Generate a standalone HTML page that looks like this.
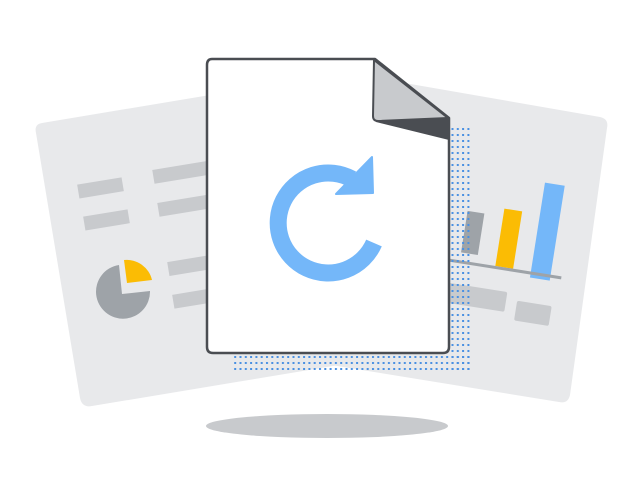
<!DOCTYPE html>
<html><head><meta charset="utf-8"><style>html,body{margin:0;padding:0;background:#fff}svg{display:block}</style></head>
<body>
<svg width="641" height="481" viewBox="0 0 641 481" xmlns="http://www.w3.org/2000/svg">
<defs>
<pattern id="dots" width="5.3" height="6" patternUnits="userSpaceOnUse">
<rect x="1" y="2" width="2" height="2" fill="#4a90e2"/>
</pattern>
</defs>
<ellipse cx="327" cy="426" rx="121" ry="12" fill="#c8cacd"/>
<!-- left page -->
<path d="M42,123 L300,80 L345,364 L92,406 Q82,408 80,398 L36,133 Q34,124 42,123 Z" fill="#e8e9eb"/>
<g fill="#c8cacd">
<rect x="78" y="181" width="45" height="14" transform="rotate(-9.4 100 188)"/>
<rect x="84" y="213" width="45" height="14" transform="rotate(-9.4 106 220)"/>
<rect x="153" y="165" width="60" height="14" transform="rotate(-9.4 183 172)"/>
<rect x="158" y="198" width="60" height="14" transform="rotate(-9.4 188 205)"/>
<rect x="168" y="258" width="50" height="14" transform="rotate(-9.4 193 265)"/>
<rect x="173" y="291" width="45" height="14" transform="rotate(-9.4 196 298)"/>
</g>
<path d="M119,265 L122,294 L150,291 A27,27 0 1 1 119,265 Z" fill="#9ea3a8"/>
<path d="M124,260 L127,283 L152,280 A26,26 0 0 0 124,260 Z" fill="#fbbc04"/>
<!-- right page -->
<path d="M330,70 L600,117 Q609,119 607,128 L570,395 Q568,404 559,402 L300,360 Z" fill="#e8e9eb"/>
<g transform="rotate(9 510 250)">
<rect x="462" y="218" width="17" height="42" fill="#9ea3a8"/>
<rect x="498" y="210" width="18" height="58" fill="#fbbc04"/>
<rect x="534" y="178" width="20" height="96" fill="#74b7f9"/>
<rect x="445" y="268" width="120" height="3" fill="#9ea3a8"/>
<rect x="450" y="292" width="64" height="20" rx="2" fill="#c8cacd"/>
<rect x="525" y="299" width="35" height="20" rx="2" fill="#c8cacd"/>
</g>
<!-- dots -->
<rect x="450" y="125" width="22" height="245" fill="url(#dots)"/>
<rect x="233" y="352" width="239" height="18" fill="url(#dots)"/>
<!-- document -->
<path d="M212,59 L375,59 L449,118 L449,347 Q449,353 443,353 L213,353 Q207,353 207,347 L207,65 Q207,59 212,59 Z" fill="#fff" stroke="#4a4d52" stroke-width="2.5" stroke-linejoin="round"/>
<path d="M374,60 L449,118 L449,140 L376,122 Z" fill="#4a4d52"/>
<path d="M374,60 L448,118 L378,121 Q373,121 373,116 Z" fill="#c8cacd" stroke="#4a4d52" stroke-width="2" stroke-linejoin="round"/>
<!-- refresh -->
<path d="M352,179 A50,50 0 1 0 374,243" fill="none" stroke="#74b7f9" stroke-width="17"/>
<path d="M336,194 L373,193 L372,157 Z" fill="#74b7f9" stroke="#74b7f9" stroke-width="2" stroke-linejoin="round"/>
</svg>
</body></html>
